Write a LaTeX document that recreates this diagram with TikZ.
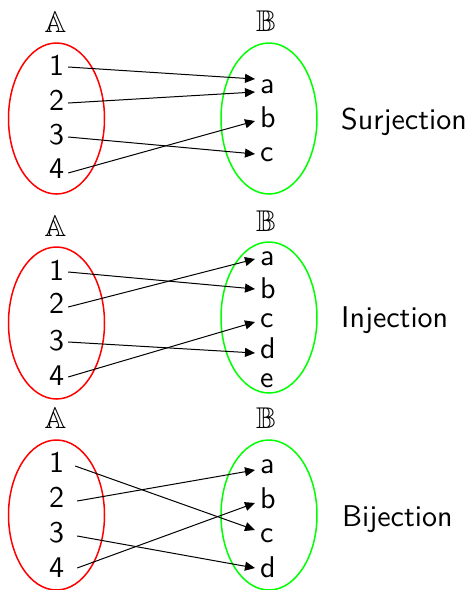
\documentclass[tikz,border=0pt]{standalone}
\usepackage{amssymb}
\usepackage{graphicx}
\usetikzlibrary{arrows.meta}
\newcommand\bigtext[1]{\scalebox{3}{#1}}
\begin{document}
\begin{tikzpicture}[x={(1pt,0)},y={(0,-1pt)},
  lbl/.style={inner sep=0pt, font=\sffamily},
  num/.style={lbl, anchor=base},
  let/.style={lbl, anchor=base west},
  setA/.style={draw=red, line width=1.5pt},
  setB/.style={draw=green, line width=1.5pt},
  arr/.style={line width=1pt, -{Triangle[length=10pt,width=9pt]}}
]
\useasboundingbox (0,0) rectangle (473,590);

% ---------- Panel 1: Surjection ----------
\node[num] (A1) at (55.5,32) {\bigtext{$\mathbb{A}$}};
\node[num] (B1) at (266,31) {\bigtext{$\mathbb{B}$}};
\draw[setA] (56.5,118.5) ellipse [x radius=48pt, y radius=75.5pt];
\draw[setB] (269,118.5) ellipse [x radius=48pt, y radius=75.5pt];
\node[num] (p1n1) at (56.5,75) {\bigtext{1}};
\node[num] (p1n2) at (56.5,110) {\bigtext{2}};
\node[num] (p1n3) at (56.5,144) {\bigtext{3}};
\node[num] (p1n4) at (56.5,178) {\bigtext{4}};
\node[let] (p1a) at (260,93) {\bigtext{a}};
\node[let] (p1b) at (260,127) {\bigtext{b}};
\node[let] (p1c) at (260,161) {\bigtext{c}};
\node[let] (surj) at (341,129) {\bigtext{Surjection}};
\draw[arr] ([shift={(4,-8)}]p1n1.base east) -- ([shift={(-5,-14)}]p1a.base west);
\draw[arr] ([shift={(4,-7)}]p1n2.base east) -- ([shift={(-5,-1)}]p1a.base west);
\draw[arr] ([shift={(4,-7)}]p1n3.base east) -- ([shift={(-5,-7)}]p1c.base west);
\draw[arr] ([shift={(4,-5)}]p1n4.base east) -- ([shift={(-5,-6)}]p1b.base west);

% ---------- Panel 2: Injection ----------
\node[num] (A2) at (55.5,236) {\bigtext{$\mathbb{A}$}};
\node[num] (B2) at (266,231) {\bigtext{$\mathbb{B}$}};
\draw[setA] (56.5,323) ellipse [x radius=48pt, y radius=76pt];
\draw[setB] (269,317.5) ellipse [x radius=48pt, y radius=75.5pt];
\node[num] (p2n1) at (56.5,280) {\bigtext{1}};
\node[num] (p2n2) at (56.5,313) {\bigtext{2}};
\node[num] (p2n3) at (56.5,350) {\bigtext{3}};
\node[num] (p2n4) at (56.5,385) {\bigtext{4}};
\node[let] (p2a) at (260,265) {\bigtext{a}};
\node[let] (p2b) at (260,298) {\bigtext{b}};
\node[let] (p2c) at (260,327) {\bigtext{c}};
\node[let] (p2d) at (260,358) {\bigtext{d}};
\node[let] (p2e) at (260,387) {\bigtext{e}};
\node[let] (inj) at (341,327) {\bigtext{Injection}};
\draw[arr] ([shift={(4,-8)}]p2n1.base east) -- ([shift={(-5,-9)}]p2b.base west);
\draw[arr] ([shift={(4,-6)}]p2n2.base east) -- ([shift={(-5,-6)}]p2a.base west);
\draw[arr] ([shift={(4,-8)}]p2n3.base east) -- ([shift={(-5,-5)}]p2d.base west);
\draw[arr] ([shift={(4,-8)}]p2n4.base east) -- ([shift={(-5,-5)}]p2c.base west);

% ---------- Panel 3: Bijection ----------
\node[num] (A3) at (55.5,428) {\bigtext{$\mathbb{A}$}};
\node[num] (B3) at (266,428) {\bigtext{$\mathbb{B}$}};
\draw[setA] (56.5,515) ellipse [x radius=48pt, y radius=75pt];
\draw[setB] (269,515) ellipse [x radius=48pt, y radius=75pt];
\node[num] (p3n1) at (56.5,472) {\bigtext{1}};
\node[num] (p3n2) at (56.5,507) {\bigtext{2}};
\node[num] (p3n3) at (56.5,542) {\bigtext{3}};
\node[num] (p3n4) at (56.5,577) {\bigtext{4}};
\node[let] (p3a) at (260,473) {\bigtext{a}};
\node[let] (p3b) at (260,508) {\bigtext{b}};
\node[let] (p3c) at (260,542) {\bigtext{c}};
\node[let] (p3d) at (260,577) {\bigtext{d}};
\node[let] (bij) at (342,526) {\bigtext{Bijection}};
\draw[arr] ([shift={(11,-6)}]p3n1.base east) -- ([shift={(-5,-12)}]p3c.base west);
\draw[arr] ([shift={(13,-6)}]p3n2.base east) -- ([shift={(-5,-3)}]p3a.base west);
\draw[arr] ([shift={(13,-6)}]p3n3.base east) -- ([shift={(-5,-9)}]p3d.base west);
\draw[arr] ([shift={(13,-9)}]p3n4.base east) -- ([shift={(-5,-5)}]p3b.base west);
\end{tikzpicture}
\end{document}
